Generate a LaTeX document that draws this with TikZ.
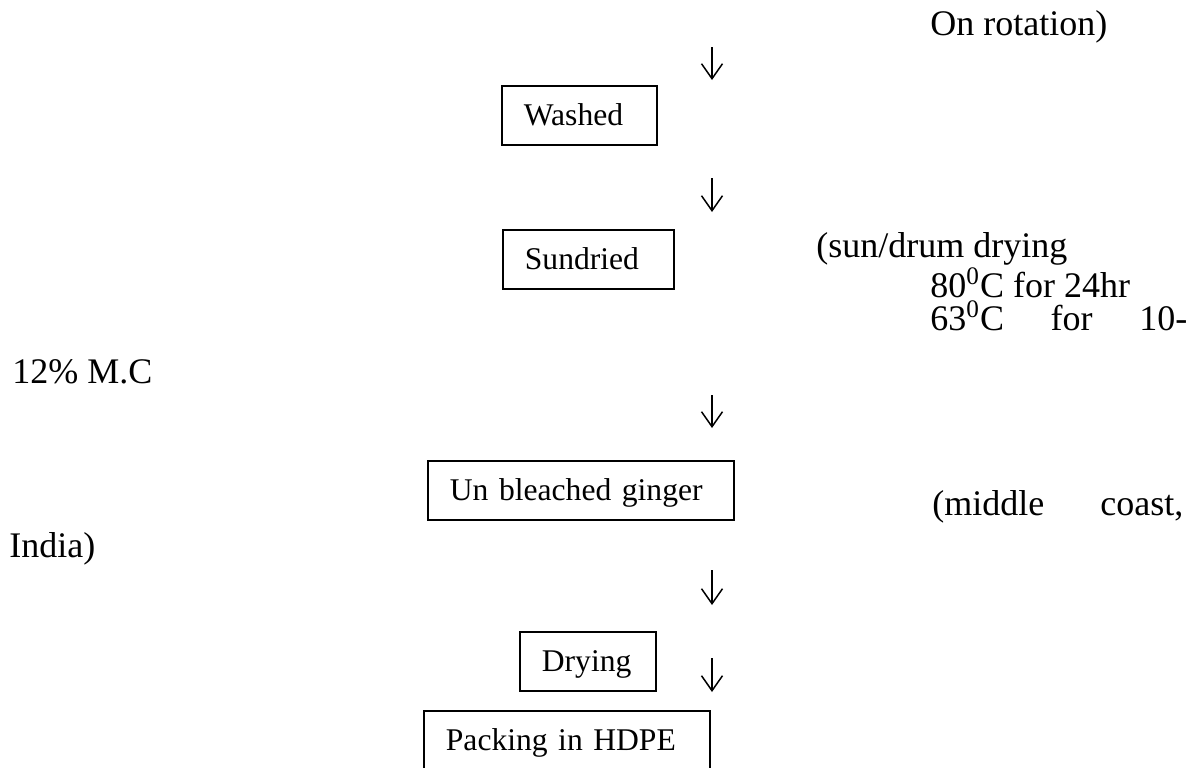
\documentclass[tikz,border=0pt]{standalone}
\usepackage{fontspec}
\setmainfont{Liberation Serif}
\usetikzlibrary{arrows.meta}

\tikzset{
  stage/.style={draw, line width=0.9pt, anchor=north west, align=left,
    inner xsep=11pt, inner ysep=6.75pt, text height=13.25pt, text depth=2.75pt,
    font=\fontsize{15.8}{19}\selectfont},
  note/.style={anchor=base west, inner sep=0pt, font=\fontsize{18}{21.6}\selectfont},
  flow/.style={->, line width=0.75pt, >={Straight Barb[length=7.5pt,width=10.5pt]}}
}

\begin{document}
\begin{tikzpicture}[x=0.5pt, y=-0.5pt]
\useasboundingbox (0,0) rectangle (1193,767);

\node (washed) [stage, text width=55.5pt] at (501,85) {Washed};
\node (sundried) [stage, text width=63.5pt] at (502,229) {Sundried};
\node (ginger) [stage, text width=131pt] at (427,460) {Un bleached ginger};
\node (drying) [stage, text width=46pt] at (519,631) {Drying};
\node (packing) [stage, text width=121pt] at (423,710) {Packing in HDPE};

\node (rot) [note] at (930,35) {On rotation)};
\node (sun) [note] at (816,257) {(sun/drum drying};
\node (t80) [note] at (930,297) {80\textsuperscript{0}C for 24hr};
\node (t63) [note] at (930,330) {\makebox[128.5pt][s]{63\textsuperscript{0}C for 10-}};
\node (mc) [note] at (12,383) {12\% M.C};
\node (coast) [note] at (932,515) {\makebox[125.5pt][s]{(middle coast,}};
\node (india) [note] at (9,557) {India)};

\coordinate (t1) at (712,47);  \coordinate (h1) at (712,80);
\coordinate (t2) at (712,178); \coordinate (h2) at (712,212);
\coordinate (t3) at (712,395); \coordinate (h3) at (712,428);
\coordinate (t4) at (712,570); \coordinate (h4) at (712,605);
\coordinate (t5) at (712,658); \coordinate (h5) at (712,692);

\draw [flow] (t1) -- (h1);
\draw [flow] (t2) -- (h2);
\draw [flow] (t3) -- (h3);
\draw [flow] (t4) -- (h4);
\draw [flow] (t5) -- (h5);
\end{tikzpicture}
\end{document}
